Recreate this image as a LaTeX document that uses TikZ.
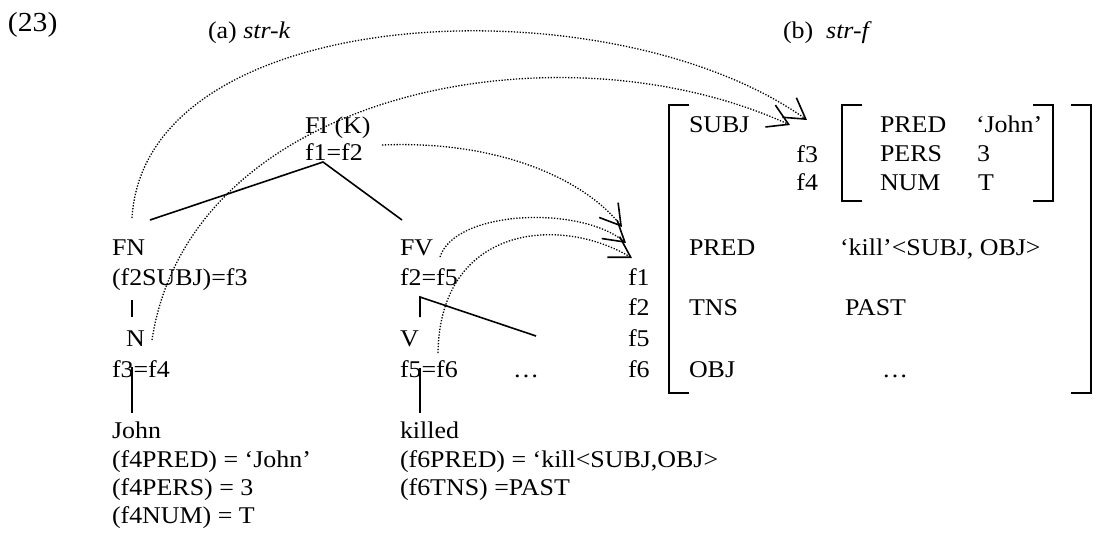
\documentclass[tikz,border=0pt]{standalone}
\usepackage{fontspec}
\setmainfont{Liberation Serif}[FakeStretch=1.08]
\usetikzlibrary{arrows.meta}
\begin{document}
\begin{tikzpicture}[x=1pt,y=-1pt,
  every node/.style={font=\fontsize{24}{28}\selectfont, inner sep=0pt, outer sep=0pt},
  lab/.style={anchor=base west},
  labr/.style={anchor=base east},
  tree/.style={line width=1.6pt},
  brk/.style={line width=1.8pt},
  link/.style={line width=1.3pt, dash pattern=on 1.3pt off 1.6pt,
    -{Straight Barb[length=20pt,width=24pt,line width=1.6pt]}},
]
\useasboundingbox (0,0) rectangle (1097,544);

% headings
\node[lab, font=\fontsize{27.5}{30}\selectfont] (num) at (8,31) {(23)};
\node[lab] (ha) at (208,38) {(a) \textit{str-k}};
\node[lab] (hb) at (783,38) {(b)\ \ \textit{str-f}};

% c-structure
\node[lab] (fi) at (305,133) {FI (K)};
\node[lab] (fi2) at (305,160) {f1=f2};
\node[lab] (fn) at (112,255) {FN};
\node[lab] (fn2) at (112,285) {(f2SUBJ)=f3};
\node[lab] (n) at (126,346) {N};
\node[lab] (n2) at (112,377) {f3=f4};
\node[lab] (john) at (112,438) {John};
\node[lab] (j1) at (112,467) {(f4PRED) = ‘John’};
\node[lab] (j2) at (112,495) {(f4PERS) = 3};
\node[lab] (j3) at (112,523) {(f4NUM) = T};
\node[lab] (fv) at (400,255) {FV};
\node[lab] (fv2) at (400,285) {f2=f5};
\node[lab] (v) at (400,346) {V};
\node[lab] (v2) at (400,377) {f5=f6};
\node[lab] (dots1) at (513,377) {…};
\node[lab] (killed) at (400,438) {killed};
\node[lab] (k1) at (400,467) {(f6PRED) = ‘kill<SUBJ,OBJ>};
\node[lab] (k2) at (400,495) {(f6TNS) =PAST};

% tree branches
\coordinate (fiB) at (323,162);
\coordinate (fnA) at (150,220);
\coordinate (fvA) at (402,220);
\coordinate (nbarT) at (132,300);
\coordinate (nbarB) at (132,317);
\coordinate (nT) at (132,367);
\coordinate (johnT) at (132,413);
\coordinate (fvB) at (420,297);
\coordinate (vT) at (420,317);
\coordinate (objA) at (536,336);
\coordinate (vB) at (420,368);
\coordinate (killedT) at (420,413);
\draw[tree] (fnA) -- (fiB) -- (fvA);
\draw[tree] (nbarT) -- (nbarB);
\draw[tree] (nT) -- (johnT);
\draw[tree] (vT) -- (fvB) -- (objA);
\draw[tree] (vB) -- (killedT);

% f-structure labels
\node[lab] (f1) at (628,285) {f1};
\node[lab] (f2) at (628,315) {f2};
\node[lab] (f5) at (628,346) {f5};
\node[lab] (f6) at (628,377) {f6};
\node[lab] (subj) at (689,132) {SUBJ};
\node[labr] (f3) at (818,162) {f3};
\node[labr] (f4) at (818,190) {f4};
\node[lab] (pred1) at (880,132) {PRED};
\node[lab] (jv) at (976,132) {‘John’};
\node[lab] (pers) at (880,161) {PERS};
\node[lab] (three) at (977,161) {3};
\node[lab] (numa) at (880,190) {NUM};
\node[lab] (tv) at (978,190) {T};
\node[lab] (pred2) at (689,255) {PRED};
\node[lab] (kill) at (840,255) {‘kill’<SUBJ, OBJ>};
\node[lab] (tns) at (689,315) {TNS};
\node[lab] (past) at (845,315) {PAST};
\node[lab] (obj) at (689,377) {OBJ};
\node[lab] (dots2) at (882,377) {…};

% brackets
\draw[brk] (689,105) -- (669,105) -- (669,393) -- (689,393);
\draw[brk] (1071,105) -- (1091,105) -- (1091,393) -- (1071,393);
\draw[brk] (862,105) -- (842,105) -- (842,201) -- (862,201);
\draw[brk] (1033,105) -- (1053,105) -- (1053,201) -- (1033,201);

% correspondence links
\coordinate (fnT) at (132,218);
\coordinate (nR) at (152,340);
\coordinate (fiR) at (382,145);
\coordinate (fvT) at (440,257);
\coordinate (v2T) at (438,353);
\coordinate (subjA) at (807,120);
\coordinate (subjB) at (790,125);
\coordinate (f1A) at (622,227);
\coordinate (f1B) at (626,243);
\coordinate (f1C) at (632,258);
\draw[link] (fnT) .. controls (145,0) and (610,-20) .. (subjA);
\draw[link] (nR) .. controls (190,90) and (560,20) .. (subjB);
\draw[link] (fiR) .. controls (500,140) and (585,180) .. (f1A);
\draw[link] (fvT) .. controls (455,210) and (580,205) .. (f1B);
\draw[link] (v2T) .. controls (440,225) and (560,215) .. (f1C);
\end{tikzpicture}
\end{document}
